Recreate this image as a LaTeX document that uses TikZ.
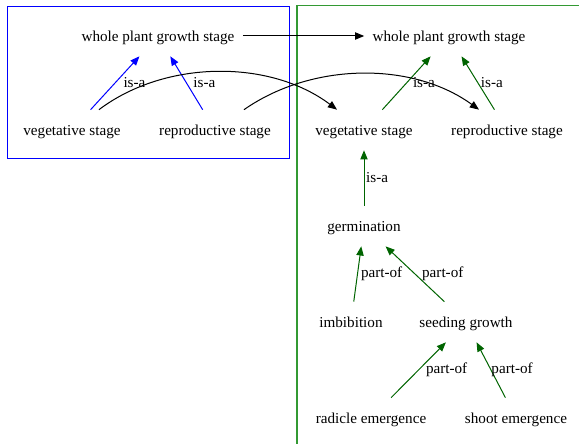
\documentclass[tikz,border=0pt]{standalone}
\usepackage{fontspec}
\setmainfont{Liberation Serif}
\usetikzlibrary{arrows.meta}
\definecolor{framegreen}{HTML}{339933}
\definecolor{leafgreen}{HTML}{006400}
\tikzset{term/.style={inner xsep=4.8pt,inner ysep=0pt,minimum height=24pt,text height=8pt,text depth=1.5pt,font=\fontsize{9.1}{11}\selectfont},relarrow/.style={-{Triangle[length=5.5pt,width=4.4pt]},line width=.6pt},rellabel/.style={font=\fontsize{9.1}{11}\selectfont,text=black,anchor=west,inner sep=1pt,pos=.5}}

\begin{document}
\begin{tikzpicture}[x=.6pt,y=.6pt]
\useasboundingbox (0,0) rectangle (579,444);
\draw[blue,line width=.6pt] (7.5,437.5) rectangle (289.5,285.5);
\draw[framegreen,line width=.8pt] (297,0)--(297,438.5)--(579,438.5);
% stages, first frame
\node[term] (lwhole) at (158,408) {whole plant growth stage};
\node[term] (lveg) at (72,314) {vegetative stage};\node[term] (lrepr) at (215,314) {reproductive stage};
\draw[relarrow,blue] (lveg) -- node[rellabel,xshift=3.8pt]{is-a} (lwhole);
\draw[relarrow,blue] (lrepr) -- node[rellabel,xshift=2.9pt]{is-a} (lwhole);
% stages, second frame
\node[term] (rwhole) at (449,408) {whole plant growth stage};
\node[term] (rveg) at (364,314) {vegetative stage};\node[term] (rrepr) at (507,314) {reproductive stage};
\node[term] (germ) at (364,218) {germination};
\node[term] (imbib) at (351,122) {imbibition};\node[term] (seed) at (466,122) {seeding growth};
\node[term] (radicle) at (371,26) {radicle emergence};\node[term] (shoot) at (516,26) {shoot emergence};
\draw[relarrow,leafgreen] (rveg) -- node[rellabel,xshift=2.6pt]{is-a} (rwhole);
\draw[relarrow,leafgreen] (rrepr) -- node[rellabel,xshift=.5pt]{is-a} (rwhole);
\draw[relarrow,leafgreen] (germ) -- node[rellabel]{is-a} (rveg);
\draw[relarrow,leafgreen] (imbib) -- node[rellabel,xshift=.8pt]{part-of} (germ);
\draw[relarrow,leafgreen] (seed) -- node[rellabel,xshift=3pt]{part-of} (germ);
\draw[relarrow,leafgreen] (radicle) -- node[rellabel,xshift=3.2pt]{part-of} (seed);
\draw[relarrow,leafgreen] (shoot) -- node[rellabel,xshift=-1pt]{part-of} (seed);
% mapping between frames
\draw[relarrow] (lwhole) -- (rwhole);
\draw[relarrow] (lveg) to[out=37,in=143,looseness=.9] (rveg);
\draw[relarrow] (lrepr) to[out=35,in=144,looseness=.9] (rrepr);
\end{tikzpicture}
\end{document}
